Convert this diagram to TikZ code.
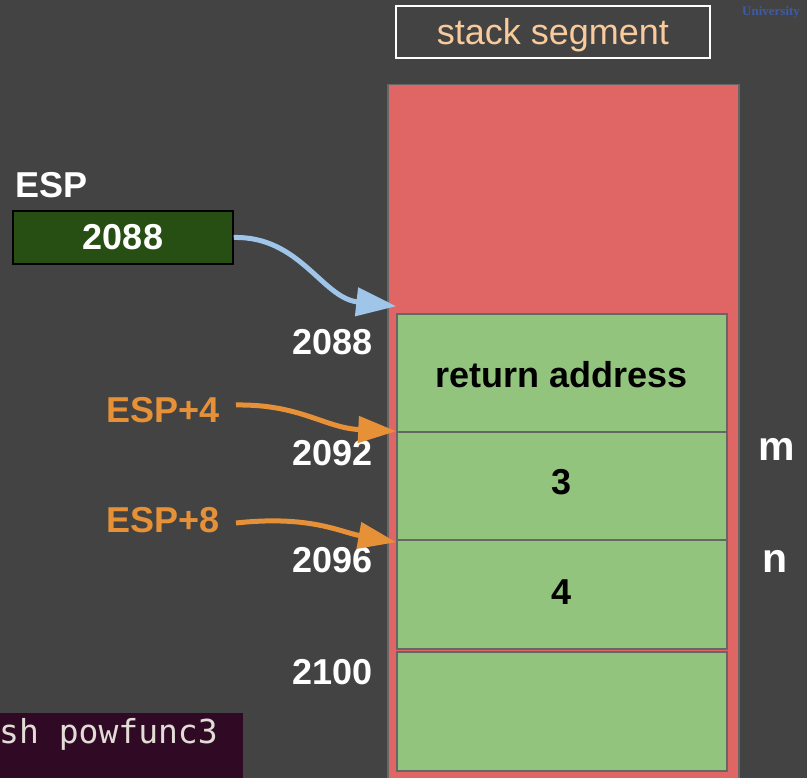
\documentclass[tikz,border=0pt]{standalone}
\usepackage{fontspec}
\setmainfont{Liberation Sans}
\newfontfamily\termfont{DejaVu Sans Mono}
\newfontfamily\unifont{Liberation Serif}
\usetikzlibrary{arrows.meta}
\definecolor{bgc}{HTML}{434343}
\definecolor{stackred}{HTML}{E06666}
\definecolor{cellgreen}{HTML}{93C47D}
\definecolor{edgegray}{HTML}{666666}
\definecolor{espgreen}{HTML}{274E13}
\definecolor{segtext}{HTML}{F9CB9C}
\definecolor{arrblue}{HTML}{9FC5E8}
\definecolor{arrorange}{HTML}{E69138}
\definecolor{termbg}{HTML}{300A24}
\definecolor{termtext}{HTML}{E2DCD6}
\definecolor{unicol}{HTML}{3D5BA9}
\tikzset{
  big/.style={font=\fontsize{36}{40}\selectfont\bfseries, inner sep=0pt},
  addr/.style={big, text=white, anchor=east},
  cellbox/.style={draw=edgegray, line width=1.5pt, fill=cellgreen, minimum width=330pt, inner sep=0pt, text=black, font=\fontsize{36}{40}\selectfont\bfseries},
  bluearrow/.style={draw=arrblue, line width=5pt, -{Triangle[length=40pt,width=28pt]}},
  orangearrow/.style={draw=arrorange, line width=5pt, -{Triangle[length=38pt,width=26pt]}},
  orangelabel/.style={big, text=arrorange, anchor=east},
}
\begin{document}
\begin{tikzpicture}[x=1pt,y=-1pt]
\clip (0,0) rectangle (807,778);
\fill[bgc] (0,0) rectangle (807,778);
% stack segment label
\node[draw=white, line width=2pt, minimum width=314pt, minimum height=52pt, inner sep=0pt] (seg) at (553,32) {};
\node[anchor=base, inner sep=0pt, text=segtext, font=\fontsize{36}{40}\selectfont] (segtxt) at (553,45) {stack segment};
% University
\node[anchor=base west, inner sep=0pt, text=unicol, font=\unifont\fontsize{13}{14}\selectfont\bfseries] (uni) at (742,16) {University};
% stack
\node[draw=edgegray, line width=1.5pt, fill=stackred, minimum width=351pt, minimum height=720pt, inner sep=0pt, anchor=north west] (stack) at (387,84) {};
% cells
\node[cellbox, minimum height=118pt] (c1) at (562,373) {};
\node[cellbox, minimum height=108pt] (c2) at (562,486) {};
\node[cellbox, minimum height=109pt] (c3) at (562,594.5) {};
\node[cellbox, minimum height=119pt] (c4) at (562,711.5) {};
\node[big, text=black] (t1) at (562,375) {return address};
\node[big, text=black] (t2) at (562,482) {3};
\node[big, text=black] (t3) at (562,592) {4};
% addresses
\node[addr] (a1) at (373,342) {2088};
\node[addr] (a2) at (373,453) {2092};
\node[addr] (a3) at (373,560) {2096};
\node[addr] (a4) at (373,672) {2100};
% m, n
\node[big, text=white, font=\fontsize{41}{44}\selectfont\bfseries] (m) at (777,449) {m};
\node[big, text=white, font=\fontsize{41}{44}\selectfont\bfseries] (n) at (775,561) {n};
% ESP register
\node[big, text=white, anchor=west] (esplbl) at (15,185) {ESP};
\node[draw=black, line width=1.5pt, fill=espgreen, minimum width=220pt, minimum height=53pt, inner sep=0pt, text=white, font=\fontsize{36}{40}\selectfont\bfseries] (esp) at (123,237.5) {2088};
% ESP+4 / ESP+8
\node[orangelabel] (e4) at (220,410) {ESP+4};
\node[orangelabel] (e8) at (220,520) {ESP+8};
% arrows
\draw[bluearrow] (esp.east) .. controls (300,236) and (322,298) .. ([yshift=7pt]c1.north west);
\draw[orangearrow] ([xshift=16pt,yshift=5pt]e4.east) .. controls (300,404) and (325,428) .. (c2.north west);
\draw[orangearrow] ([xshift=16pt,yshift=-3pt]e8.east) .. controls (310,515) and (340,532) .. ([yshift=-3pt]c3.north west);
% terminal
\fill[termbg] (0,713) rectangle (243,778);
\node[anchor=base west, inner sep=0pt, text=termtext, font=\termfont\fontsize{33}{36}\selectfont] (term) at (-1,743) {sh powfunc3};
\end{tikzpicture}
\end{document}
